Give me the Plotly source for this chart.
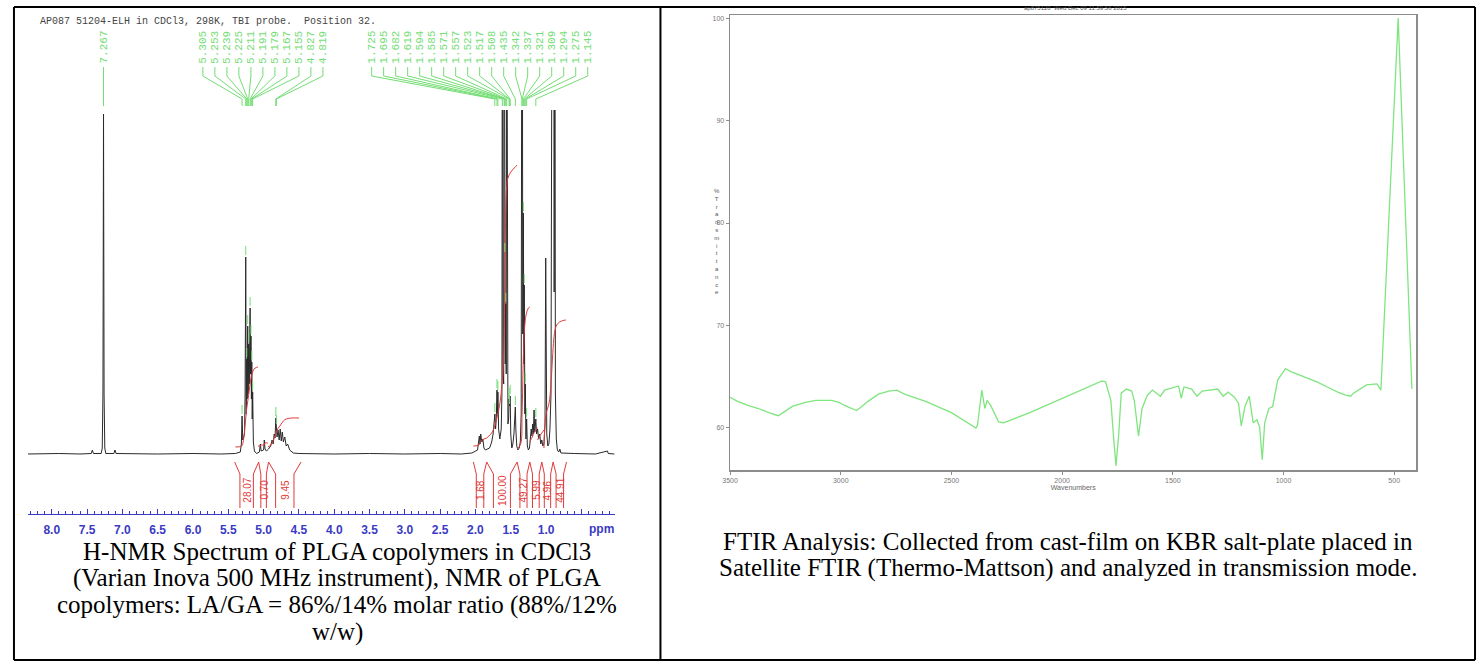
import plotly.graph_objects as go

W, H = 1479, 663

# ---------------- NMR data (ppm, intensity) ----------------
nmr_ppm = [8.34, 7.90, 7.60, 7.44, 7.425, 7.41, 7.30, 7.285, 7.275, 7.267, 7.259, 7.249, 7.235,
           7.12, 7.105, 7.09, 6.50, 6.00, 5.60, 5.40, 5.33, 5.315, 5.305, 5.295, 5.27, 5.262,
           5.253, 5.246, 5.239, 5.232, 5.225, 5.218, 5.211, 5.203, 5.197, 5.191, 5.185, 5.179,
           5.173, 5.167, 5.161, 5.155, 5.145, 5.13, 5.10, 5.06, 5.045, 5.035, 5.00, 4.99, 4.98,
           4.96, 4.93, 4.90, 4.88, 4.865, 4.85, 4.838, 4.827, 4.819, 4.81, 4.795, 4.78, 4.765,
           4.75, 4.735, 4.72, 4.70, 4.68, 4.66, 4.63, 4.58, 4.50, 4.0, 3.5, 3.0, 2.5, 2.2, 2.05,
           1.97, 1.945, 1.935, 1.925, 1.91, 1.895, 1.88, 1.86, 1.80, 1.77, 1.75, 1.735, 1.725,
           1.715, 1.705, 1.695, 1.688, 1.682, 1.672, 1.655, 1.635, 1.625, 1.619, 1.61, 1.60,
           1.594, 1.588, 1.585, 1.578, 1.571, 1.564, 1.557, 1.549, 1.54, 1.53, 1.523, 1.517,
           1.508, 1.50, 1.485, 1.47, 1.455, 1.445, 1.435, 1.428, 1.415, 1.40, 1.38, 1.365,
           1.352, 1.342, 1.337, 1.33, 1.321, 1.315, 1.309, 1.30, 1.294, 1.285, 1.275, 1.265,
           1.25, 1.235, 1.22, 1.21, 1.20, 1.19, 1.18, 1.17, 1.16, 1.145, 1.135, 1.12, 1.105,
           1.09, 1.075, 1.06, 1.045, 1.03, 1.015, 1.005, 0.99, 0.975, 0.96, 0.945, 0.93, 0.92,
           0.912, 0.90, 0.892, 0.885, 0.875, 0.868, 0.855, 0.84, 0.82, 0.805, 0.79, 0.60, 0.30,
           0.13, 0.12, 0.03]
nmr_int = [0.0, 0.5, 0.0, 0.5, 4, 0.5, 0.5, 6, 60, 340, 60, 6, 0.5,
           0.5, 4, 0.5, 0.0, 0.5, 0.0, 0.5, 2, 10, 38, 14, 20, 60,
           197, 40, 95, 55, 128, 60, 110, 70, 100, 146, 80, 118,
           55, 92, 35, 62, 12, 3, 0.5, 2, 10, 3, 4, 14, 5,
           3, 5, 8, 14, 10, 20, 16, 36, 28, 17, 24, 14, 25,
           13, 22, 12, 17, 8, 10, 4, 1, 0.5, 0, 0.5, 0, 0.5, 0, 1,
           4, 18, 10, 20, 12, 15, 6, 4, 6, 12, 20, 30, 40,
           25, 35, 64, 40, 62, 25, 15, 25, 60, 600, 80, 70,
           600, 120, 200, 90, 150, 80, 600, 60, 30, 35, 55, 48,
           58, 20, 6, 10, 20, 30, 47, 25, 8, 4, 6, 12,
           40, 600, 600, 120, 241, 90, 169, 40, 70, 15, 35, 8,
           4, 6, 15, 25, 18, 30, 20, 44, 22, 35, 20, 25, 15,
           20, 10, 14, 8, 10, 30, 196, 20, 8, 10, 25, 60, 292,
           600, 400, 600, 162, 600, 60, 15, 4, 2, 5, 1, 0.5, 0,
           3, 0.5, 0]

# integral curves (ppm, height)
integral_curves = [
    ([5.40, 5.31, 5.29, 5.26, 5.24, 5.21, 5.18, 5.15, 5.12, 5.08],
     [7, 8, 12, 30, 45, 60, 75, 83, 86, 87]),
    ([5.08, 5.05, 5.03, 5.00, 4.98, 4.94], [8, 8, 9, 9, 11, 11]),
    ([4.94, 4.90, 4.86, 4.83, 4.80, 4.76, 4.72, 4.68, 4.60, 4.50],
     [7, 9, 14, 20, 25, 29, 33, 35, 36, 36]),
    ([2.03, 1.95, 1.92, 1.88, 1.84], [8, 9, 13, 15, 16]),
    ([1.84, 1.76, 1.70, 1.66, 1.63, 1.60, 1.58, 1.56, 1.54, 1.50, 1.45, 1.41],
     [16, 22, 35, 48, 65, 100, 200, 265, 276, 282, 286, 289]),
    ([1.41, 1.36, 1.34, 1.32, 1.30, 1.28, 1.25, 1.23], [5, 10, 40, 100, 130, 140, 146, 147]),
    ([1.23, 1.19, 1.15, 1.12], [12, 18, 24, 26]),
    ([1.12, 1.09, 1.05, 1.03], [14, 18, 22, 24]),
    ([1.03, 1.00, 0.96, 0.93, 0.91, 0.89, 0.87, 0.84, 0.78, 0.72],
     [6, 40, 50, 70, 95, 115, 125, 130, 133, 134]),
]

# integral regions (left ppm, right ppm) and values
int_left = [5.41, 5.07, 4.93, 2.03, 1.84, 1.41, 1.23, 1.06, 0.90]
int_right = [5.07, 4.93, 4.47, 1.84, 1.41, 1.23, 1.06, 0.90, 0.71]
int_values = ["28.07", "0.70", "9.45", "1.68", "100.00", "49.27", "5.99", "4.96", "44.91"]

# peak labels
g1_labels = ["7.267"]
g2_labels = ["5.305", "5.253", "5.239", "5.225", "5.211", "5.191", "5.179", "5.167",
             "5.155", "4.827", "4.819"]
g3_labels = ["1.725", "1.695", "1.682", "1.619", "1.594", "1.585", "1.571", "1.557",
             "1.523", "1.517", "1.508", "1.435", "1.342", "1.337", "1.321", "1.309",
             "1.294", "1.275", "1.145"]

nmr_tick_vals = [8.0, 7.5, 7.0, 6.5, 6.0, 5.5, 5.0, 4.5, 4.0, 3.5, 3.0, 2.5, 2.0, 1.5, 1.0, 0.5]
nmr_tick_text = ["8.0", "7.5", "7.0", "6.5", "6.0", "5.5", "5.0", "4.5", "4.0", "3.5",
                 "3.0", "2.5", "2.0", "1.5", "1.0", ""]

# ---------------- FTIR data ----------------
ftir_wn = [3500, 3466, 3419, 3372, 3325, 3301, 3282, 3254, 3219, 3160, 3113, 3042, 3007,
           2983, 2948, 2929, 2905, 2877, 2830, 2783, 2747, 2712, 2617, 2500, 2389, 2382,
           2363, 2353, 2349, 2339, 2323, 2287, 2264, 2146, 2028, 1910, 1820, 1804, 1780,
           1769, 1757, 1745, 1733, 1710, 1686, 1674, 1655, 1639, 1615, 1592, 1556, 1537,
           1474, 1462, 1450, 1415, 1391, 1368, 1297, 1273, 1250, 1222, 1203, 1191, 1174,
           1155, 1137, 1120, 1108, 1096, 1085, 1066, 1049, 1026, 1002, 991, 967, 920, 873,
           849, 802, 755, 719, 696, 684, 660, 625, 578, 560, 482, 420]
ftir_t = [63.0, 62.6, 62.2, 61.9, 61.5, 61.3, 61.2, 61.6, 62.1, 62.5, 62.7, 62.7, 62.5,
          62.2, 61.9, 61.7, 62.1, 62.6, 63.3, 63.6, 63.7, 63.3, 62.6, 61.5, 60.0, 60.3,
          63.7, 62.6, 61.9, 62.7, 62.2, 60.6, 60.5, 61.5, 62.6, 63.7, 64.6, 64.5, 62.7,
          59.5, 56.3, 59.2, 63.4, 63.8, 63.6, 62.7, 59.2, 61.9, 63.2, 63.7, 63.1, 63.7,
          64.1, 62.9, 64.0, 63.8, 63.1, 63.6, 63.8, 63.1, 63.5, 63.0, 62.4, 60.2, 62.1,
          63.1, 60.5, 60.8, 60.1, 56.9, 60.5, 61.9, 62.1, 64.7, 65.5, 65.8, 65.5, 65.1, 64.7,
          64.5, 64.0, 63.5, 63.2, 63.1, 63.4, 63.7, 64.2, 64.3, 63.7, 100.0, 63.8]
ftir_xticks = [3500, 3000, 2500, 2000, 1500, 1000, 500]
ftir_yticks = [60, 70, 80, 90, 100]

# ---------------- helpers (layout only) ----------------
def fx(p):
    return p / W

def fy(p):
    return 1 - p / H

BLUE = "#3a3ac4"
GREEN = "#74dd74"
RED = "#e03a3a"

fig = go.Figure()

# NMR spectrum
fig.add_trace(go.Scatter(x=nmr_ppm, y=nmr_int, mode="lines", xaxis="x", yaxis="y",
                         line=dict(color="#2a2a2a", width=1), hoverinfo="skip"))

# integral curves
for xs, ys in integral_curves:
    fig.add_trace(go.Scatter(x=xs, y=ys, mode="lines", xaxis="x", yaxis="y",
                             line=dict(color=RED, width=1, shape="spline"), hoverinfo="skip"))

# integral brackets
bx, by = [], []
for a, b in zip(int_left, int_right):
    d = min(0.1, (a - b) * 0.22)
    bx += [a, a - d, a - d, None, b, b + d, b + d, None]
    by += [-8, -20, -54, None, -8, -20, -54, None]
fig.add_trace(go.Scatter(x=bx, y=by, mode="lines", xaxis="x", yaxis="y",
                         line=dict(color=RED, width=1), hoverinfo="skip"))

# peak label connectors (in the label strip above the spectrum)
STEP = 0.17
groups = [(g1_labels, 7.267), (g2_labels, 5.01), (g3_labels, 1.94)]
lx, ly = [], []
slots = []
for labels, center in groups:
    n = len(labels)
    for i, lab in enumerate(labels):
        s = center + ((n - 1) / 2 - i) * STEP
        p = float(lab)
        slots.append((s, lab))
        lx += [s, s, p, p, None]
        ly += [67, 76, 99, 106, None]
fig.add_trace(go.Scatter(x=lx, y=ly, mode="lines", xaxis="x", yaxis="y3",
                         line=dict(color=GREEN, width=1), hoverinfo="skip"))

# peak pick marks on the spectrum
pick = {p: h for p, h in zip(nmr_ppm, nmr_int)}
mx, my = [], []
for labels, _ in groups:
    for lab in labels:
        p = float(lab)
        h = pick.get(p)
        if h is not None and h < 320:
            mx += [p, p, None]
            my += [h + 2, h + 11, None]
fig.add_trace(go.Scatter(x=mx, y=my, mode="lines", xaxis="x", yaxis="y",
                         line=dict(color=GREEN, width=1), hoverinfo="skip"))

# FTIR
fig.add_trace(go.Scatter(x=ftir_wn, y=ftir_t, mode="lines", xaxis="x2", yaxis="y2",
                         line=dict(color="#7fe57f", width=1.3), hoverinfo="skip"))

ann = []
for s, lab in slots:
    ann.append(dict(x=s, y=47, xref="x", yref="y3", text=lab, showarrow=False,
                    textangle=-90, font=dict(family="Liberation Mono", size=11, color=GREEN)))
for a, b, v in zip(int_left, int_right, int_values):
    ann.append(dict(x=(a + b) / 2, y=-36, xref="x", yref="y", text=v, showarrow=False,
                    textangle=-90, font=dict(family="Liberation Sans", size=10, color=RED)))
ann.append(dict(x=0.22, y=fy(529), xref="x", yref="paper", text="ppm", showarrow=False,
                xanchor="center", yanchor="middle",
                font=dict(family="Liberation Sans", size=12, color=BLUE, weight="bold")))
ann.append(dict(x=fx(30), y=fy(22), xref="paper", yref="paper", xanchor="left",
                yanchor="middle",
                text="AP087 51204-ELH in CDCl3, 298K, TBI probe.  Position 32.",
                showarrow=False, font=dict(family="Liberation Mono", size=10, color="#444")))
ann.append(dict(x=fx(1073), y=fy(8), xref="paper", yref="paper", xanchor="center",
                yanchor="middle",
                text="ap875120  Wed Dec 09 11:59:56 2015", showarrow=False,
                font=dict(family="Liberation Sans", size=6, color="#555")))
ann.append(dict(x=fx(713), y=fy(241), xref="paper", yref="paper", xanchor="center",
                yanchor="middle",
                text="<br>".join(list("%Transmittance")), showarrow=False,
                font=dict(family="Liberation Sans", size=6, color="#555")))

serif = dict(family="Liberation Serif", size=25, color="#000")
for i, t in enumerate(["H-NMR Spectrum of PLGA copolymers in CDCl3",
                       "(Varian Inova 500 MHz instrument), NMR of PLGA",
                       "copolymers: LA/GA = 86%/14% molar ratio (88%/12%",
                       "w/w)"]):
    ann.append(dict(x=fx(331), y=fy(551 + 27 * i), xref="paper", yref="paper", text=t,
                    xanchor="center", yanchor="middle", showarrow=False, font=serif))
for i, t in enumerate(["FTIR Analysis: Collected from cast-film on KBR salt-plate placed in",
                       "Satellite FTIR (Thermo-Mattson) and analyzed in transmission mode."]):
    ann.append(dict(x=fx(1066), y=fy(541 + 27 * i), xref="paper", yref="paper", text=t,
                    xanchor="center", yanchor="middle", showarrow=False, font=serif))

shapes = []
for x0, y0, x1, y1 in [(6, 7, 1475, 7), (6, 660, 1475, 660), (6, 7, 6, 660),
                       (656, 7, 656, 660), (1475, 7, 1475, 660)]:
    shapes.append(dict(type="line", xref="paper", yref="paper", x0=fx(x0), y0=fy(y0),
                       x1=fx(x1), y1=fy(y1), line=dict(color="#000", width=2)))

fig.update_layout(
    width=W, height=H, margin=dict(l=0, r=0, t=0, b=0),
    paper_bgcolor="white", plot_bgcolor="white", showlegend=False,
    annotations=ann, shapes=shapes,
    xaxis=dict(domain=[fx(20), fx(610)], range=[8.338, 0.028], anchor="y",
               showline=True, linecolor=BLUE, linewidth=1, showgrid=False, zeroline=False,
               ticks="inside", ticklen=5, tickcolor=BLUE, tickwidth=1,
               tickmode="array", tickvals=nmr_tick_vals, ticktext=nmr_tick_text,
               tickfont=dict(family="Liberation Sans", size=12, color=BLUE, weight="bold"),
               ticklabelstandoff=5,
               minor=dict(dtick=0.1, tick0=0, ticks="inside", ticklen=3, tickcolor=BLUE)),
    yaxis=dict(domain=[fy(514), fy(110)], range=[-60, 344], visible=False, anchor="x"),
    yaxis3=dict(domain=[fy(110), fy(25)], range=[110, 25], visible=False, anchor="x"),
    xaxis2=dict(domain=[fx(726), fx(1416)], range=[3500, 400], anchor="y2",
                showline=True, mirror=True, linecolor="#8c8c8c", linewidth=1.5,
                showgrid=False, zeroline=False, ticks="outside", ticklen=3,
                tickcolor="#8c8c8c", tickmode="array", tickvals=ftir_xticks,
                tickfont=dict(family="Liberation Sans", size=7, color="#777"),
                title=dict(text="Wavenumbers", standoff=2,
                           font=dict(family="Liberation Sans", size=7, color="#666"))),
    yaxis2=dict(domain=[fy(470), fy(15)], range=[55.9, 100.3], anchor="x2",
                showline=True, mirror=True, linecolor="#8c8c8c", linewidth=1.5,
                showgrid=False, zeroline=False, ticks="outside", ticklen=3,
                tickcolor="#8c8c8c", tickmode="array", tickvals=ftir_yticks,
                tickfont=dict(family="Liberation Sans", size=7, color="#777")),
)

fig.write_html("out.html", config={"displayModeBar": False, "staticPlot": True},
               post_script="document.body.style.margin='0px';")
